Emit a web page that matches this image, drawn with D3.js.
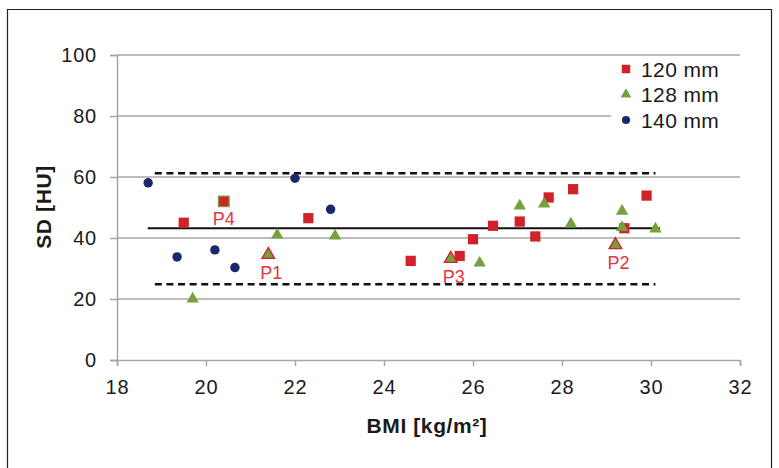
<!DOCTYPE html>
<html><head><meta charset="utf-8">
<script src="https://cdn.jsdelivr.net/npm/d3@7"></script>
<style>body{margin:0;background:#fff;}svg{display:block;font-family:"Liberation Sans",Arial,sans-serif;}</style>
</head><body>
<script>
// ---- data ----
const seriesNames = ["120 mm", "128 mm", "140 mm"];
const bmi120 = [19.5, 22.3, 24.6, 25.7, 26.0, 26.45, 27.05, 27.4, 27.7, 28.25, 29.4, 29.9];
const sd120  = [45.0, 46.5, 32.5, 34.1, 39.6, 44.0, 45.4, 40.5, 53.3, 56.0, 43.2, 53.9];
const bmi128 = [19.7, 21.6, 22.9, 26.15, 27.05, 27.6, 28.2, 29.35, 29.35, 30.1];
const sd128  = [20.0, 41.0, 40.7, 31.8, 50.5, 51.2, 44.6, 48.8, 43.5, 43.0];
const bmi140 = [18.7, 19.35, 20.2, 20.65, 22.0, 22.8];
const sd140  = [58.1, 33.8, 36.1, 30.3, 59.6, 49.4];
// highlighted patients (P1..P4)
const pLabels = ["P4", "P1", "P3", "P2"];
const pSeries = ["120 mm", "128 mm", "128 mm", "128 mm"];
const pBmi = [20.4, 21.4, 25.5, 29.2];
const pSd  = [52.0, 34.5, 33.2, 37.7];
// reference lines
const meanSD = 43.2, upperSD = 61.2, lowerSD = 24.8;
const meanRange = [18.69, 30.2], limRange = [18.85, 30.1];
const xTicks = [18, 20, 22, 24, 26, 28, 30, 32];
const yTicks = [0, 20, 40, 60, 80, 100];

// ---- layout ----
const W = 779, H = 468;
const colors = {"120 mm": "#d0222b", "128 mm": "#76a03b", "140 mm": "#1b2868"};
const shapes = {"120 mm": d3.symbolSquare, "128 mm": d3.symbolTriangle, "140 mm": d3.symbolCircle};
const sizes = {"120 mm": 105, "128 mm": 66, "140 mm": 70};

const svg = d3.select("body").append("svg").attr("width", W).attr("height", H);
// outer frame
svg.append("path").attr("d", "M7.5,468 V9.5 H771.5 V468").attr("fill", "none").attr("stroke", "#222").attr("stroke-width", 1.2);

const x = d3.scaleLinear().domain([18, 32]).range([117, 740]);
const y = d3.scaleLinear().domain([0, 100]).range([360, 55]);

const grey = "#a6a6a6";
// gridlines
svg.append("g").selectAll("line").data(yTicks.filter(d => d > 0)).join("line")
  .attr("x1", x(18)).attr("x2", x(32)).attr("y1", d => y(d)).attr("y2", d => y(d))
  .attr("stroke", grey).attr("stroke-width", 1.5);

// axes
const yAxis = svg.append("g").attr("transform", `translate(${x(18)},0)`)
  .call(d3.axisLeft(y).tickValues(yTicks).tickSize(7).tickPadding(13));
const xAxis = svg.append("g").attr("transform", `translate(0,${y(0)})`)
  .call(d3.axisBottom(x).tickValues(xTicks).tickSize(6).tickPadding(14));
[yAxis, xAxis].forEach(a => {
  a.select(".domain").attr("stroke", grey).attr("stroke-width", 1.5);
  a.selectAll(".tick line").attr("stroke", grey).attr("stroke-width", 1.5);
  a.selectAll("text").attr("font-size", 20).attr("fill", "#1a1a1a").attr("letter-spacing", 0.8)
    .attr("font-family", "Liberation Sans, Arial, sans-serif");
});

// legend background (covers gridline)
svg.append("rect").attr("x", 611).attr("y", 58).attr("width", 132).attr("height", 76).attr("fill", "#fff");

// reference lines
svg.append("line").attr("x1", x(meanRange[0])).attr("x2", x(meanRange[1]))
  .attr("y1", y(meanSD)).attr("y2", y(meanSD)).attr("stroke", "#111").attr("stroke-width", 2);
[upperSD, lowerSD].forEach(v => {
  svg.append("line").attr("x1", x(limRange[0])).attr("x2", x(limRange[1]))
    .attr("y1", y(v)).attr("y2", y(v)).attr("stroke", "#111").attr("stroke-width", 2.5)
    .attr("stroke-dasharray", "7,4.6");
});

// points
function drawSeries(name, xs, ys) {
  svg.append("g").selectAll("path").data(xs.map((d, i) => [d, ys[i]])).join("path")
    .attr("transform", d => `translate(${x(d[0])},${y(d[1])})`)
    .attr("d", d3.symbol().type(shapes[name]).size(sizes[name]))
    .attr("fill", colors[name]);
}
drawSeries("120 mm", bmi120, sd120);
drawSeries("128 mm", bmi128, sd128);
drawSeries("140 mm", bmi140, sd140);

// highlighted points
pLabels.forEach((lab, i) => {
  const s = pSeries[i];
  const other = s === "120 mm" ? colors["128 mm"] : colors["120 mm"];
  svg.append("path").attr("transform", `translate(${x(pBmi[i])},${y(pSd[i])})`)
    .attr("d", d3.symbol().type(shapes[s]).size(s === "120 mm" ? 112 : 70))
    .attr("fill", colors[s]).attr("stroke", other).attr("stroke-width", 1.3);
  svg.append("text").attr("x", x(pBmi[i]) + (s === "120 mm" ? 0 : 3)).attr("y", y(pSd[i]) + 24)
    .attr("text-anchor", "middle").attr("font-size", 18).attr("fill", "#e0363f").text(lab);
});

// legend
const legY = [69, 94.5, 120];
seriesNames.forEach((n, i) => {
  svg.append("path").attr("transform", `translate(626,${legY[i]})`)
    .attr("d", d3.symbol().type(shapes[n]).size(n === "120 mm" ? 72 : (n === "128 mm" ? 50 : 52)))
    .attr("fill", colors[n]);
  svg.append("text").attr("x", 641).attr("y", legY[i] + 7.5).attr("font-size", 21)
    .attr("letter-spacing", 0.4).attr("fill", "#1a1a1a").text(n);
});

// axis titles
svg.append("text").attr("x", 427).attr("y", 433).attr("text-anchor", "middle")
  .attr("font-size", 21).attr("font-weight", "bold").attr("letter-spacing", 0.6).attr("fill", "#1a1a1a").text("BMI [kg/m²]");
svg.append("text").attr("transform", "translate(51,207) rotate(-90)").attr("text-anchor", "middle")
  .attr("font-size", 21).attr("font-weight", "bold").attr("letter-spacing", 0.6).attr("fill", "#1a1a1a").text("SD [HU]");
</script>
</body></html>
